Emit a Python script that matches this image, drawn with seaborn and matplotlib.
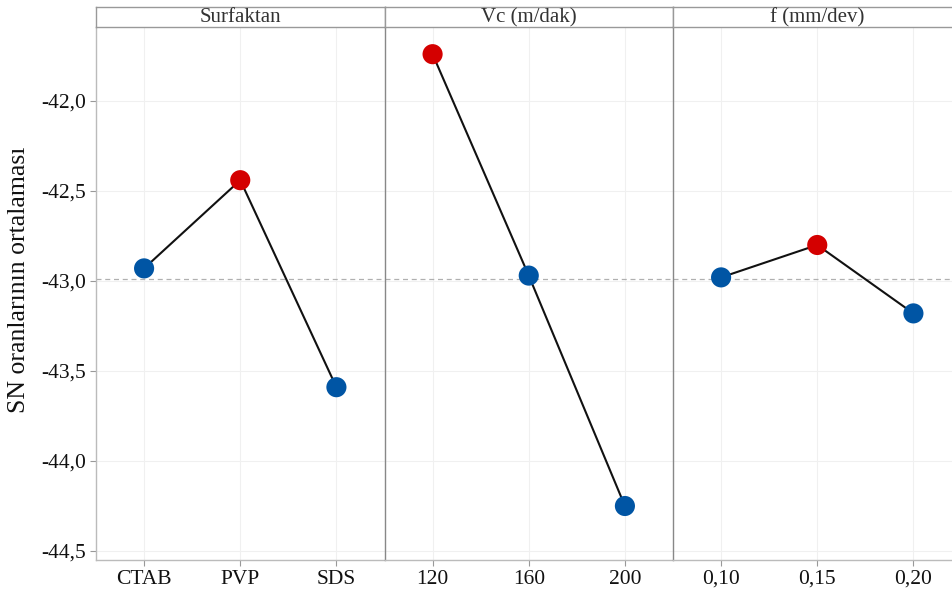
import numpy as np
import pandas as pd
import matplotlib
matplotlib.use('Agg')
import matplotlib.pyplot as plt
from matplotlib.ticker import FuncFormatter
import seaborn as sns

# ortalama SN oranlari (faktor seviyelerine gore)
faktorler = ['Surfaktan', 'Vc (m/dak)', 'f (mm/dev)']
surfaktan_seviye = ['CTAB', 'PVP', 'SDS']
surfaktan_sn = [-42.93, -42.44, -43.59]
vc_seviye = ['120', '160', '200']
vc_sn = [-41.74, -42.97, -44.25]
f_seviye = ['0,10', '0,15', '0,20']
f_sn = [-42.98, -42.80, -43.18]
genel_ortalama = -42.99
y_ticks = [-42.0, -42.5, -43.0, -43.5, -44.0, -44.5]

sns.set_theme(style='white')
plt.rcParams['font.family'] = ['Liberation Serif', 'DejaVu Serif']

W, H = 952, 592
fig = plt.figure(figsize=(W / 100, H / 100), dpi=100)

ax_left, ax_w = 96, 288.5
ax_top, ax_bot = 27, 560
strip_top = 7

veriler = [(surfaktan_seviye, surfaktan_sn),
           (vc_seviye, vc_sn),
           (f_seviye, f_sn)]

mavi = '#0055a4'
kirmizi = '#d40000'

axes = []
for i, (baslik, (sev, sn)) in enumerate(zip(faktorler, veriler)):
    x0 = ax_left + i * ax_w
    ax = fig.add_axes([x0 / W, (H - ax_bot) / H, ax_w / W, (ax_bot - ax_top) / H])
    df = pd.DataFrame({'seviye': sev, 'sn': sn})
    df['en_iyi'] = np.where(df.sn == df.sn.max(), 'max', 'diger')
    ax.axhline(genel_ortalama, color='#b0b0b0', lw=0.9, ls=(0, (4, 3)), zorder=1)
    sns.lineplot(data=df, x='seviye', y='sn', color='#111111', lw=1.5,
                 sort=False, ax=ax, zorder=2)
    sns.scatterplot(data=df, x='seviye', y='sn', hue='en_iyi',
                    palette={'max': kirmizi, 'diger': mavi}, s=210,
                    edgecolor='none', legend=False, ax=ax, zorder=3)
    ax.set_xlim(-0.5, 2.5)
    ax.set_ylim(-44.55, -41.589)
    ax.set_xlabel('')
    ax.set_ylabel('')
    ax.grid(True, color='#f0f0f0', lw=0.8)
    ax.set_axisbelow(True)
    ax.tick_params(axis='both', labelsize=15.5, colors='#111111', length=4,
                   width=0.8, color='#999999', bottom=True, left=(i == 0), pad=3)
    ax.set_yticks(y_ticks)
    ax.yaxis.set_major_formatter(FuncFormatter(lambda v, p: ('%.1f' % v).replace('.', ',')))
    if i > 0:
        ax.tick_params(labelleft=False)
    for s in ['top', 'right']:
        ax.spines[s].set_visible(False)
    ax.spines['bottom'].set_color('#bbbbbb')
    ax.spines['left'].set_color('#bbbbbb' if i == 0 else '#888888')
    ax.spines['bottom'].set_linewidth(1.0)
    ax.spines['left'].set_linewidth(1.0)

    # panel basligi
    sax = fig.add_axes([x0 / W, (H - ax_top) / H, ax_w / W, (ax_top - strip_top) / H])
    sax.set_xticks([])
    sax.set_yticks([])
    for s in sax.spines.values():
        s.set_color('#999999')
        s.set_linewidth(1.0)
    sax.text(0.5, 0.45, baslik, ha='center', va='center', fontsize=15,
             color='#333333', transform=sax.transAxes)
    axes.append(ax)

fig.text(19 / W, (H - 280) / H, 'SN oranlarının ortalaması', rotation=90,
         ha='center', va='center', fontsize=18.5, color='#111111')

fig.savefig('out.png', dpi=100)
